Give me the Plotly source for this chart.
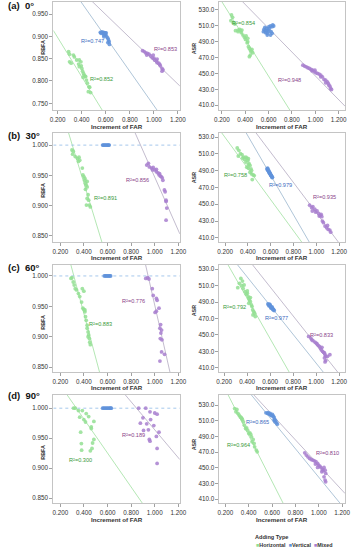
import plotly.graph_objects as go

# ---------------- DATA ----------------
x_ticks = [0.2, 0.4, 0.6, 0.8, 1.0, 1.2]
rbfa_ticks_a = [0.75, 0.80, 0.85, 0.90, 0.95]
rbfa_ticks = [0.85, 0.90, 0.95, 1.00]
asr_ticks = [410, 430, 450, 470, 490, 510, 530]
panel_titles = ["(a)  0°", "(b)  30°", "(c)  60°", "(d)  90°"]
legend_names = ["Horizontal", "Vertical", "Mixed"]

# (a) 0°  RBFA
a_rbfa_h_x = [0.292,0.300,0.300,0.313,0.332,0.340,0.359,0.381,0.375,0.394,0.381,0.402,0.408,0.416,0.421,0.429,0.434,0.440,0.448,0.461,0.467,0.456,0.475,0.397,0.413]
a_rbfa_h_y = [0.866,0.860,0.843,0.840,0.858,0.854,0.847,0.847,0.838,0.843,0.832,0.828,0.822,0.817,0.813,0.811,0.810,0.802,0.795,0.787,0.786,0.776,0.774,0.834,0.808]
a_rbfa_v_x = [0.556,0.569,0.577,0.583,0.591,0.596,0.602,0.583,0.610,0.618,0.623,0.629,0.618,0.631,0.596,0.604,0.561,0.585]
a_rbfa_v_y = [0.909,0.910,0.907,0.909,0.907,0.904,0.903,0.903,0.899,0.896,0.892,0.888,0.886,0.882,0.908,0.908,0.907,0.899]
a_rbfa_m_x = [0.906,0.920,0.933,0.947,0.960,0.941,0.974,0.987,1.001,1.006,1.022,1.027,1.041,1.049,1.054,1.068,1.076,1.068,0.995,1.027]
a_rbfa_m_y = [0.868,0.866,0.863,0.862,0.860,0.858,0.856,0.852,0.851,0.847,0.845,0.841,0.840,0.837,0.834,0.828,0.825,0.822,0.858,0.849]
# (a) 0°  ASR
a_asr_h_x = [0.283,0.292,0.278,0.297,0.311,0.317,0.339,0.353,0.361,0.367,0.372,0.381,0.394,0.403,0.408,0.422,0.417,0.428,0.436,0.444,0.450,0.458,0.464,0.444,0.436,0.422,0.339]
a_asr_h_y = [523.7,520.7,516.5,514.0,512.3,503.9,502.6,505.6,503.9,501.4,504.7,498.4,495.5,492.9,497.2,494.2,488.7,483.7,481.6,479.5,477.4,480.3,476.1,473.2,471.1,490.0,504.7]
a_asr_v_x = [0.556,0.561,0.569,0.575,0.583,0.589,0.594,0.603,0.608,0.617,0.622,0.631,0.636,0.631,0.617,0.589,0.569,0.603,0.644,0.581]
a_asr_v_y = [502.6,505.6,503.9,501.4,506.8,500.5,504.7,508.9,506.8,509.8,502.6,508.9,511.1,500.5,498.4,498.4,508.1,502.6,509.8,503.9]
a_asr_m_x = [0.894,0.908,0.922,0.936,0.950,0.964,0.972,0.978,0.992,1.006,1.019,1.033,1.047,1.061,1.075,1.089,1.103,1.111,1.117,1.125,1.131,1.139,0.997,1.047,1.089]
a_asr_m_y = [460.5,459.3,458.4,457.2,456.3,455.1,453.4,454.2,452.1,450.8,450.0,449.2,447.9,445.8,442.4,441.6,439.5,437.4,435.3,434.0,431.1,429.8,454.2,445.8,438.2]

# (b) 30°  RBFA
b_rbfa_h_x = [0.298,0.309,0.304,0.326,0.345,0.358,0.364,0.353,0.386,0.391,0.399,0.408,0.413,0.419,0.427,0.413,0.435,0.427,0.440,0.446,0.454,0.421,0.408,0.427]
b_rbfa_h_y = [0.992,0.990,0.985,0.981,0.978,0.980,0.975,0.973,0.962,0.951,0.948,0.942,0.937,0.934,0.931,0.927,0.918,0.912,0.909,0.901,0.898,0.901,0.945,0.940]
b_rbfa_v_x = [0.558,0.565,0.572,0.580,0.587,0.595,0.602,0.610,0.613]
b_rbfa_v_y = [1.000,1.000,1.000,1.000,1.000,1.000,1.000,1.000,1.000]
b_rbfa_m_x = [0.932,0.946,0.954,0.973,0.987,1.001,1.014,1.028,1.036,1.047,1.055,1.063,1.069,1.082,1.088,1.096,1.096,1.102,1.096,1.041,1.014,0.981]
b_rbfa_m_y = [0.967,0.970,0.964,0.962,0.963,0.959,0.956,0.954,0.951,0.949,0.948,0.946,0.942,0.926,0.923,0.909,0.907,0.896,0.876,0.953,0.960,0.959]
# (b) 30°  ASR
b_asr_h_x = [0.306,0.320,0.315,0.334,0.348,0.354,0.362,0.371,0.382,0.390,0.399,0.404,0.410,0.390,0.404,0.418,0.427,0.432,0.432,0.446,0.455,0.418,0.438,0.404,0.382]
b_asr_h_y = [517.1,514.3,507.5,510.3,509.1,505.1,506.3,503.5,500.3,505.1,502.3,504.3,498.3,494.3,493.1,496.3,492.2,490.2,486.2,485.0,484.2,488.2,479.4,497.1,506.3]
b_asr_v_x = [0.567,0.573,0.578,0.581,0.587,0.589,0.595,0.601,0.606,0.609,0.615,0.573,0.584,0.592,0.601,0.612,0.575,0.598]
b_asr_v_y = [492.2,491.0,490.2,489.0,488.2,487.0,486.2,485.0,484.2,483.0,482.2,493.1,489.8,487.8,484.2,481.8,491.8,485.8]
b_asr_m_x = [0.942,0.959,0.970,0.965,0.987,0.993,1.007,1.021,1.035,1.043,1.049,1.054,1.063,1.077,1.091,1.099,1.105,1.119,1.127,1.026]
b_asr_m_y = [448.9,446.1,447.3,442.0,444.1,440.8,442.0,439.2,436.8,438.0,435.2,430.0,428.0,424.0,422.0,424.8,420.0,419.2,416.7,436.0]

# (c) 60°  RBFA
c_rbfa_h_x = [0.290,0.298,0.309,0.317,0.326,0.337,0.353,0.364,0.386,0.399,0.380,0.391,0.399,0.408,0.413,0.419,0.427,0.427,0.435,0.440,0.446,0.449,0.454,0.435,0.408]
c_rbfa_h_y = [0.996,0.997,0.990,0.985,0.979,0.977,0.971,0.966,0.979,0.975,0.957,0.947,0.945,0.941,0.933,0.927,0.919,0.914,0.908,0.903,0.897,0.891,0.887,0.900,0.944]
c_rbfa_v_x = [0.572,0.580,0.588,0.596,0.604,0.612,0.620,0.626]
c_rbfa_v_y = [1.000,1.000,1.000,1.000,1.000,1.000,1.000,1.000]
c_rbfa_m_x = [0.924,0.940,0.951,0.979,0.987,1.014,1.020,1.003,1.014,1.036,1.050,1.044,1.058,1.052,1.047,1.061,1.058,1.083,1.044]
c_rbfa_m_y = [0.996,0.997,0.995,0.979,0.968,0.963,0.960,0.940,0.942,0.947,0.920,0.914,0.911,0.906,0.897,0.895,0.875,0.871,0.860]
# (c) 60°  ASR
c_asr_h_x = [0.346,0.360,0.333,0.319,0.355,0.374,0.366,0.382,0.393,0.402,0.410,0.415,0.421,0.429,0.415,0.438,0.443,0.449,0.457,0.465,0.451,0.471,0.429,0.402]
c_asr_h_y = [518.7,515.5,512.7,507.4,509.9,510.7,506.6,502.6,499.4,500.6,496.6,494.6,492.5,490.5,488.5,486.5,484.5,480.5,478.4,476.4,474.4,472.4,495.4,503.4]
c_asr_v_x = [0.581,0.587,0.595,0.598,0.603,0.609,0.614,0.620,0.625,0.631,0.636,0.592,0.609,0.623,0.601,0.617]
c_asr_v_y = [487.7,486.5,487.3,485.7,484.5,483.7,483.3,482.5,481.7,480.5,479.7,485.3,482.5,480.9,486.5,484.1]
c_asr_m_x = [0.935,0.954,0.962,0.973,0.990,1.001,1.009,1.018,1.029,1.037,1.045,1.056,1.065,1.073,1.078,1.084,1.073,1.084,1.078,1.100,1.120,1.051]
c_asr_m_y = [448.2,446.2,444.2,443.0,441.4,440.2,439.0,437.4,436.2,434.1,432.1,430.1,428.9,428.1,426.1,424.1,422.1,418.9,417.2,424.1,426.1,435.0]

# (d) 90°  RBFA
d_rbfa_h_x = [0.312,0.326,0.353,0.386,0.419,0.440,0.364,0.399,0.413,0.462,0.462,0.484,0.372,0.484,0.473,0.378,0.468,0.454,0.380]
d_rbfa_h_y = [1.000,1.000,0.996,0.996,0.991,0.986,0.985,0.981,0.977,0.969,0.966,0.978,0.960,0.948,0.942,0.941,0.933,0.929,0.930]
d_rbfa_v_x = [0.558,0.568,0.578,0.588,0.598,0.608,0.618,0.626,0.632]
d_rbfa_v_y = [1.000,1.000,1.000,1.000,1.000,1.000,1.000,1.000,1.000]
d_rbfa_m_x = [0.864,0.924,0.960,1.000,1.020,0.900,0.965,0.878,0.932,0.992,0.905,0.946,1.036,1.014,0.954,0.960,1.020,1.020]
d_rbfa_m_y = [1.000,1.000,0.994,0.992,0.990,0.984,0.981,0.975,0.974,0.971,0.963,0.964,0.960,0.953,0.948,0.945,0.933,0.908]
# (d) 90°  ASR
d_asr_h_x = [0.280,0.299,0.291,0.308,0.319,0.327,0.341,0.346,0.355,0.363,0.374,0.391,0.402,0.418,0.424,0.438,0.429,0.446,0.451,0.465,0.473,0.410,0.382,0.335]
d_asr_h_y = [525.7,524.5,521.5,519.4,517.2,515.1,513.0,511.7,508.7,504.5,500.2,498.1,493.8,492.6,489.6,486.2,483.2,481.1,476.8,472.6,470.4,494.7,501.1,514.3]
d_asr_v_x = [0.548,0.562,0.576,0.589,0.603,0.612,0.617,0.623,0.631,0.639,0.645,0.584,0.598,0.617,0.625,0.567]
d_asr_v_y = [520.2,519.4,518.5,517.2,518.1,516.0,514.3,511.7,510.0,507.4,505.7,519.4,516.4,510.9,508.7,520.6]
d_asr_m_x = [0.880,0.893,0.907,0.921,0.935,0.949,0.962,0.976,0.971,0.990,0.998,1.009,1.018,1.031,1.037,1.045,1.054,1.059,1.045,1.054,1.059,1.026,0.990]
d_asr_m_y = [469.1,466.2,464.0,461.9,460.6,459.8,458.9,457.7,454.7,455.5,453.4,452.1,450.4,447.9,446.2,450.4,447.0,442.8,438.5,434.3,432.1,444.9,450.4]

# Fit lines: (group, intercept, slope)
fit_a_rbfa = [("h", 0.986, -0.44), ("v", 1.129, -0.384), ("m", 1.105, -0.26)]
fit_a_asr = [("h", 587.4, -234.6), ("m", 597.0, -150.0)]
fit_b_rbfa = [("h", 1.192, -0.638), ("v", 1.000, 0.0), ("m", 1.387, -0.44)]
fit_b_asr = [("h", 566.6, -185.3), ("v", 625.5, -235.0), ("m", 619.9, -180.0)]
fit_c_rbfa = [("h", 1.228, -0.726), ("v", 1.000, 0.0), ("m", 1.806, -0.854)]
fit_c_asr = [("h", 592.6, -245.0), ("v", 590.6, -174.8), ("m", 614.0, -176.0)]
fit_d_rbfa = [("h", 1.095, -0.283), ("v", 1.000, 0.0), ("m", 1.197, -0.233)]
fit_d_asr = [("h", 609.0, -294.0), ("v", 620.1, -182.2), ("m", 614.7, -161.3)]

# R² labels: (group, text, x, y)
r2_a_rbfa = [("v", "R²=0.747", 0.488, 0.890), ("m", "R²=0.853", 1.095, 0.871), ("h", "R²=0.852", 0.569, 0.805)]
r2_a_asr = [("h", "R²=0.854", 0.389, 514.0), ("m", "R²=0.948", 0.778, 441.6)]
r2_b_rbfa = [("h", "R²=0.891", 0.585, 0.913), ("m", "R²=0.856", 0.850, 0.943)]
r2_b_asr = [("h", "R²=0.758", 0.292, 485.0), ("v", "R²=0.979", 0.685, 473.0), ("m", "R²=0.935", 1.071, 458.9)]
r2_c_rbfa = [("h", "R²=0.883", 0.536, 0.921), ("m", "R²=0.776", 0.823, 0.959)]
r2_c_asr = [("h", "R²=0.792", 0.291, 483.7), ("v", "R²=0.977", 0.659, 471.2), ("m", "R²=0.833", 1.051, 450.3)]
r2_d_rbfa = [("h", "R²=0.300", 0.372, 0.913), ("m", "R²=0.189", 0.823, 0.955)]
r2_d_asr = [("v", "R²=0.865", 0.473, 507.9), ("h", "R²=0.964", 0.313, 478.9), ("m", "R²=0.810", 1.073, 468.3)]

# ---------------- STYLE / LAYOUT ----------------
W, H = 354, 550
FONT = "Liberation Sans, Arial, sans-serif"
PT = {"h": "#93df93", "v": "#5f92da", "m": "#a87fcf"}
LN = {"h": "#acE4ac", "v": "#a6bed4", "m": "#bcb4c8"}
TX = {"h": "#3a9a3a", "v": "#3d6cc0", "m": "#8a3f8a"}

rows = [(2, 110), (133, 242), (265, 372), (395, 503)]
left_px = (50, 181)
right_px = (222, 352)
xrange_left = [[0.165, 1.216], [0.14, 1.213], [0.14, 1.213], [0.14, 1.213]]
xrange_right = [[0.18, 1.255], [0.15, 1.253], [0.16, 1.252], [0.15, 1.225]]
yrange_left = [[0.735, 0.977], [0.84, 1.02], [0.842, 1.018], [0.842, 1.022]]
yrange_right = [[404, 540], [405, 535], [405, 535], [405, 543]]
xtitle_y = [126, 257, 387, 519]
rbfa_title_y = [47, 190, 322, 452]
asr_title_y = [49, 178, 311, 445]
title_y = [6, 135, 267, 395]

panels = [
    (0, "L", {"h": (a_rbfa_h_x, a_rbfa_h_y), "v": (a_rbfa_v_x, a_rbfa_v_y), "m": (a_rbfa_m_x, a_rbfa_m_y)}, fit_a_rbfa, r2_a_rbfa),
    (0, "R", {"h": (a_asr_h_x, a_asr_h_y), "v": (a_asr_v_x, a_asr_v_y), "m": (a_asr_m_x, a_asr_m_y)}, fit_a_asr, r2_a_asr),
    (1, "L", {"h": (b_rbfa_h_x, b_rbfa_h_y), "v": (b_rbfa_v_x, b_rbfa_v_y), "m": (b_rbfa_m_x, b_rbfa_m_y)}, fit_b_rbfa, r2_b_rbfa),
    (1, "R", {"h": (b_asr_h_x, b_asr_h_y), "v": (b_asr_v_x, b_asr_v_y), "m": (b_asr_m_x, b_asr_m_y)}, fit_b_asr, r2_b_asr),
    (2, "L", {"h": (c_rbfa_h_x, c_rbfa_h_y), "v": (c_rbfa_v_x, c_rbfa_v_y), "m": (c_rbfa_m_x, c_rbfa_m_y)}, fit_c_rbfa, r2_c_rbfa),
    (2, "R", {"h": (c_asr_h_x, c_asr_h_y), "v": (c_asr_v_x, c_asr_v_y), "m": (c_asr_m_x, c_asr_m_y)}, fit_c_asr, r2_c_asr),
    (3, "L", {"h": (d_rbfa_h_x, d_rbfa_h_y), "v": (d_rbfa_v_x, d_rbfa_v_y), "m": (d_rbfa_m_x, d_rbfa_m_y)}, fit_d_rbfa, r2_d_rbfa),
    (3, "R", {"h": (d_asr_h_x, d_asr_h_y), "v": (d_asr_v_x, d_asr_v_y), "m": (d_asr_m_x, d_asr_m_y)}, fit_d_asr, r2_d_asr),
]

def px(x):
    return x / W

def py(y):
    return 1 - y / H

fig = go.Figure()
annotations = []
layout = {}

for k, (row, side, groups, fits, labels) in enumerate(panels, start=1):
    top, bot = rows[row]
    xl, xr = left_px if side == "L" else right_px
    xrng = xrange_left[row] if side == "L" else xrange_right[row]
    yrng = yrange_left[row] if side == "L" else yrange_right[row]
    xa = "x" if k == 1 else f"x{k}"
    ya = "y" if k == 1 else f"y{k}"
    xkey = "xaxis" if k == 1 else f"xaxis{k}"
    ykey = "yaxis" if k == 1 else f"yaxis{k}"

    if side == "L":
        yt = rbfa_ticks_a if row == 0 else rbfa_ticks
        yfmt = ".3f"
    else:
        yt = asr_ticks
        yfmt = ".1f"

    common = dict(showgrid=False, zeroline=False, showline=True, mirror=True,
                  linecolor="#c4c4c4", linewidth=1, ticks="outside", ticklen=3,
                  tickcolor="#8a8a8a", tickwidth=0.8, fixedrange=True,
                  tickfont=dict(family=FONT, size=6.3, color="#333333"))
    layout[xkey] = dict(common, domain=[px(xl), px(xr)], range=xrng, anchor=ya,
                        tickvals=x_ticks, tickformat=".3f")
    layout[ykey] = dict(common, domain=[py(bot), py(top)], range=yrng, anchor=xa,
                        tickvals=yt, tickformat=yfmt)

    for g, b0, b1 in fits:
        lx = [xrng[0], xrng[1]]
        ly = [b0 + b1 * v for v in lx]
        fig.add_trace(go.Scatter(x=lx, y=ly, mode="lines", xaxis=xa, yaxis=ya,
                                 line=dict(color="#9cc2ea" if b1 == 0 else LN[g], width=0.9,
                                           dash="dot" if b1 == 0 else "solid"),
                                 showlegend=False, hoverinfo="skip"))
    for g in ["h", "v", "m"]:
        gx, gy = groups[g]
        fig.add_trace(go.Scatter(x=gx, y=gy, mode="markers", xaxis=xa, yaxis=ya,
                                 marker=dict(color=PT[g], size=3.8, opacity=0.85,
                                             line=dict(width=0)),
                                 showlegend=False))
    for g, t, lxv, lyv in labels:
        annotations.append(dict(x=lxv, y=lyv, xref=xa, yref=ya, text=t,
                                showarrow=False, xanchor="center", yanchor="middle",
                                font=dict(family=FONT, size=5.6, color=TX[g])))

    annotations.append(dict(x=px((xl + xr) / 2), y=py(xtitle_y[row]), xref="paper", yref="paper",
                            text="<b>Increment of FAR</b>", showarrow=False,
                            xanchor="center", yanchor="middle",
                            font=dict(family=FONT, size=6.2, color="#333333")))
    if side == "L":
        tx, tyy, tt = 39, rbfa_title_y[row], "<b>RBFA</b>"
    else:
        tx, tyy, tt = 196, asr_title_y[row], "<b>ASR</b>"
    annotations.append(dict(x=px(tx), y=py(tyy), xref="paper", yref="paper",
                            text=tt, textangle=-90, showarrow=False,
                            xanchor="center", yanchor="middle",
                            font=dict(family=FONT, size=5.4, color="#333333")))

for i, t in enumerate(panel_titles):
    annotations.append(dict(x=px(1), y=py(title_y[i]), xref="paper", yref="paper",
                            text=f"<b>{t}</b>", showarrow=False, xanchor="left",
                            yanchor="middle",
                            font=dict(family=FONT, size=9.5, color="#111111")))

annotations.append(dict(x=px(276), y=py(537), xref="paper", yref="paper",
                        text="<b>Adding Type</b>", showarrow=False, xanchor="center",
                        yanchor="middle", font=dict(family=FONT, size=5.6, color="#333333")))
leg = "  ".join(f"<span style='color:{PT[g]}'>■</span><b>{n}</b>"
                for g, n in zip(["h", "v", "m"], legend_names))
annotations.append(dict(x=px(258), y=py(545), xref="paper", yref="paper",
                        text=leg, showarrow=False, xanchor="left", yanchor="middle",
                        font=dict(family=FONT, size=5.4, color="#333333")))

fig.update_layout(width=W, height=H, margin=dict(l=0, r=0, t=0, b=0),
                  paper_bgcolor="white", plot_bgcolor="white", hovermode=False,
                  annotations=annotations, showlegend=False, **layout)

fig.write_html("out.html", config={"displayModeBar": False, "staticPlot": True},
               post_script="document.body.style.margin='0';document.body.style.overflow='hidden';")
